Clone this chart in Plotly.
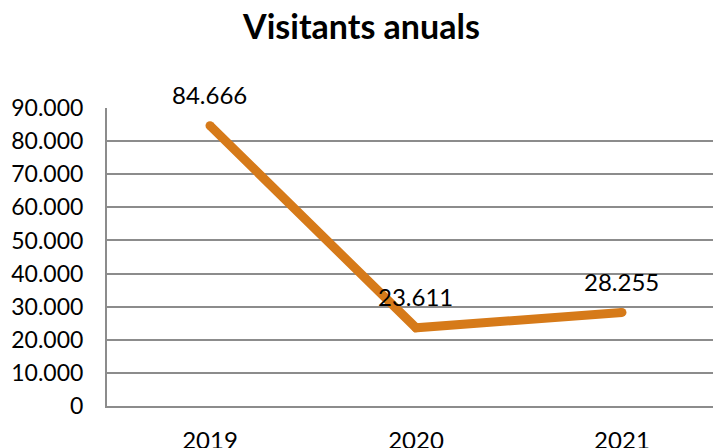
import plotly.graph_objects as go

years = ["2019", "2020", "2021"]
visitors = [84666, 23611, 28255]
labels = [f"{v:,}".replace(",", ".") for v in visitors]
y_ticks = [0, 10000, 20000, 30000, 40000, 50000, 60000, 70000, 80000, 90000]
y_tick_text = [f"{v:,}".replace(",", ".") for v in y_ticks]

line_color = "#D67A19"
grid_color = "#8C8C8C"
font_family = "Lato"

fig = go.Figure()
fig.add_trace(go.Scatter(
    x=years, y=visitors, mode="lines+markers",
    line=dict(color=line_color, width=9),
    marker=dict(color=line_color, size=9),
    hoverinfo="skip", showlegend=False,
))
for i, (y, t) in enumerate(zip(visitors, labels)):
    fig.add_annotation(x=i, y=y, xref="x", yref="y", text=t, showarrow=False,
                       yshift=31,
                       font=dict(family=font_family, size=24, color="#000000"))

fig.update_layout(
    width=713, height=448,
    margin=dict(l=107, r=0, t=108, b=42, autoexpand=False),
    paper_bgcolor="white", plot_bgcolor="white",
    title=dict(text="<b>Visitants anuals</b>", x=0.507, xanchor="center",
               y=0.94, yanchor="middle",
               font=dict(family=font_family, size=34, color="#000000")),
    font=dict(family=font_family, size=24, color="#000000"),
)
fig.update_xaxes(type="category", range=[-0.5, 2.442], automargin=False,
                 showgrid=False, showline=True, linecolor=grid_color, linewidth=2,
                 ticks="", ticklabelstandoff=12,
                 tickfont=dict(family=font_family, size=24, color="#000000"))
fig.update_yaxes(range=[0, 90000], tickvals=y_ticks, ticktext=y_tick_text,
                 automargin=False,
                 showgrid=True, gridcolor=grid_color, gridwidth=2,
                 showline=True, linecolor=grid_color, linewidth=2,
                 zeroline=False, ticks="", ticklabelstandoff=17,
                 tickfont=dict(family=font_family, size=23, color="#000000"))

fig.write_html("out.html", config={"displayModeBar": False},
               post_script="document.body.style.margin='0';document.body.style.overflow='hidden';")
